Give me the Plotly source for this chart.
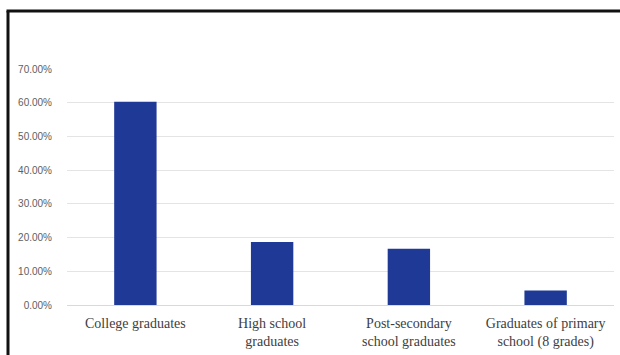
import plotly.graph_objects as go

# Share of respondents by education level
categories = [
    "College graduates",
    "High school<br>graduates",
    "Post-secondary<br>school graduates",
    "Graduates of primary<br>school (8 grades)",
]
shares = [0.603, 0.187, 0.167, 0.043]
y_ticks = [0, 0.1, 0.2, 0.3, 0.4, 0.5, 0.6, 0.7]
y_tick_labels = ["0.00%", "10.00%", "20.00%", "30.00%", "40.00%", "50.00%", "60.00%", "70.00%"]

W, H = 620, 355
L, R, T, B = 67, 6, 69, 50

def px_x(px):
    return (px - L) / (W - L - R)

def px_y(py):
    return (H - B - py) / (H - B - T)

fig = go.Figure(
    go.Bar(
        x=categories,
        y=shares,
        marker=dict(color="#1F3A96", line=dict(width=0)),
        width=0.31,
    )
)

fig.update_layout(
    width=W,
    height=H,
    margin=dict(l=L, r=R, t=T, b=B),
    paper_bgcolor="white",
    plot_bgcolor="white",
    showlegend=False,
    shapes=[
        # frame around the chart (top and left edges)
        dict(type="line", xref="paper", yref="paper",
             x0=px_x(6.5), x1=px_x(622), y0=px_y(11), y1=px_y(11),
             line=dict(color="#111111", width=3)),
        dict(type="line", xref="paper", yref="paper",
             x0=px_x(8), x1=px_x(8), y0=px_y(11), y1=px_y(358),
             line=dict(color="#111111", width=3)),
    ],
)

fig.update_xaxes(
    tickfont=dict(family="Liberation Serif, DejaVu Serif, serif", size=14, color="#404040"),
    ticks="outside",
    ticklen=5,
    tickcolor="rgba(0,0,0,0)",
    showline=False,
    showgrid=False,
)

fig.update_yaxes(
    range=[0, 0.7],
    tickvals=y_ticks,
    ticktext=y_tick_labels,
    tickfont=dict(family="Liberation Sans, Arial, sans-serif", size=10, color="#606060"),
    ticks="outside",
    ticklen=12,
    tickcolor="rgba(0,0,0,0)",
    showgrid=True,
    gridcolor="#E4E4E4",
    gridwidth=1,
    zeroline=True,
    zerolinecolor="#D9D9D9",
    zerolinewidth=1,
    showline=False,
)

fig.write_html("out.html")
